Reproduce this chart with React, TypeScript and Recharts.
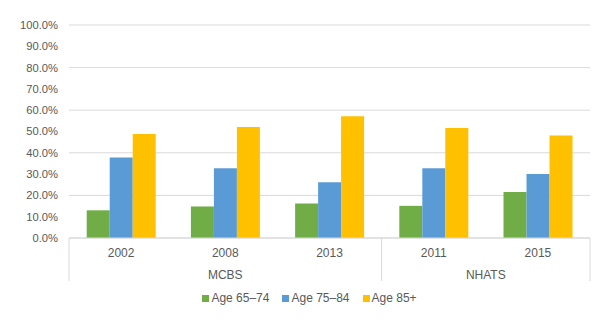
import React from 'react';
import { BarChart, Bar, XAxis, YAxis, CartesianGrid, Legend } from 'recharts';

const years = ['2002', '2008', '2013', '2011', '2015'];
const groups = ['MCBS', 'MCBS', 'MCBS', 'NHATS', 'NHATS'];
const age6574 = [13.0, 14.8, 16.2, 15.1, 21.6];
const age7584 = [37.8, 32.8, 26.2, 32.8, 30.1];
const age85 = [48.8, 52.1, 57.2, 51.7, 48.1];
const yTicks = [0, 10, 20, 30, 40, 50, 60, 70, 80, 90, 100];

const series = [
  { key: 'a', name: 'Age 65–74', color: '#70AD47', values: age6574 },
  { key: 'b', name: 'Age 75–84', color: '#5B9BD5', values: age7584 },
  { key: 'c', name: 'Age 85+', color: '#FFC000', values: age85 },
];

const data = years.map((year, i) => {
  const row: Record<string, string | number> = { year, group: groups[i] };
  series.forEach((s) => {
    row[s.key] = s.values[i];
  });
  return row;
});

const FONT = '"Liberation Sans", Arial, sans-serif';
const TEXT = '#595959';
const LINE = '#D9D9D9';

function YearTick(props: any) {
  const { x, y, payload, index } = props;
  const half = payload && payload.offset ? payload.offset : 52.1;
  const axisY = y - 11;
  const lines: number[] = [];
  if (index === 0) lines.push(x - half);
  if (index > 0 && groups[index] !== groups[index - 1]) lines.push(x - half);
  if (index === years.length - 1) lines.push(x + half);

  // group label: centred over its run of categories
  let label: React.ReactNode = null;
  const g = groups[index];
  const first = groups.indexOf(g);
  const last = groups.lastIndexOf(g);
  const mid = (first + last) / 2;
  if (index === Math.floor(mid)) {
    const gx = x + (mid - index) * half * 2;
    label = (
      <text x={gx} y={axisY + 32} dy="0.71em" textAnchor="middle" fill={TEXT} fontSize={12} fontFamily={FONT}>
        {g}
      </text>
    );
  }

  return (
    <g>
      {lines.map((lx, i) => (
        <line key={i} x1={lx} x2={lx} y1={axisY} y2={axisY + 43} stroke={LINE} strokeWidth={1} />
      ))}
      <text x={x} y={axisY + 10.5} dy="0.71em" textAnchor="middle" fill={TEXT} fontSize={12} fontFamily={FONT}>
        {payload.value}
      </text>
      {label}
    </g>
  );
}

function LegendContent() {
  return (
    <div
      style={{
        height: 36,
        display: 'flex',
        alignItems: 'center',
        justifyContent: 'center',
        paddingLeft: 42,
        fontFamily: FONT,
        fontSize: 12,
        color: TEXT,
      }}
    >
      {series.map((s) => (
        <span key={s.key} style={{ display: 'flex', alignItems: 'center', marginRight: 13 }}>
          <span style={{ width: 7, height: 7, background: s.color, display: 'inline-block', marginRight: 2 }} />
          {s.name}
        </span>
      ))}
    </div>
  );
}

export default function App() {
  return (
    <div style={{ position: 'absolute', left: 0, top: 0, background: '#fff' }}>
      <BarChart
        width={609}
        height={325}
        data={data}
        margin={{ top: 25, right: 19, bottom: 0, left: 0 }}
        barCategoryGap="17%"
        barGap={0}
      >
        <CartesianGrid vertical={false} stroke={LINE} />
        <XAxis
          dataKey="year"
          height={42}
          tickLine={false}
          tickSize={0}
          tickMargin={11}
          axisLine={{ stroke: LINE }}
          interval={0}
          tick={<YearTick />}
        />
        <YAxis
          width={69}
          domain={[0, 100]}
          ticks={yTicks}
          tickFormatter={(v: number) => v.toFixed(1) + '%'}
          axisLine={false}
          tickLine={false}
          tickSize={0}
          tickMargin={11}
          tick={{ fill: TEXT, fontSize: 11.2, fontFamily: FONT }}
        />
        <Legend verticalAlign="bottom" height={45} content={<LegendContent />} />
        {series.map((s) => (
          <Bar key={s.key} dataKey={s.key} name={s.name} fill={s.color} isAnimationActive={false} />
        ))}
      </BarChart>
    </div>
  );
}
